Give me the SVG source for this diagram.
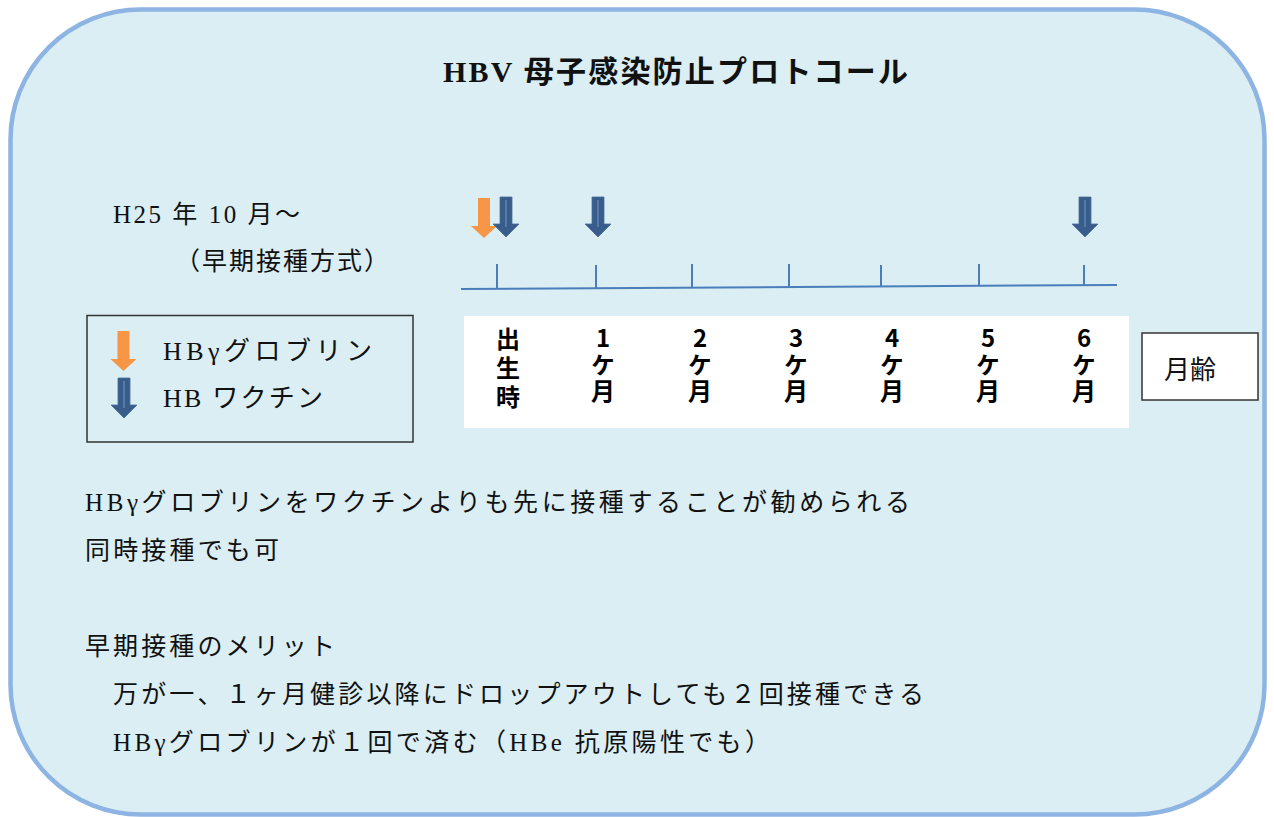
<svg xmlns="http://www.w3.org/2000/svg" xmlns:xlink="http://www.w3.org/1999/xlink" width="1274" height="817" viewBox="0 0 1274 817">
<style>
.t{font-family:"Liberation Serif","Noto Sans CJK JP",serif;fill:#111;font-size:25px}
.v{font-family:"Noto Sans CJK JP","Liberation Sans",sans-serif;font-weight:bold;fill:#000;font-size:24px;writing-mode:vertical-rl;text-orientation:upright;letter-spacing:2.5px}
.axis{stroke:#4A7EBB;stroke-width:2;fill:none}
.box{fill:none;stroke:#333;stroke-width:1.5}
</style>
<defs>
<g id="blueArrow">
<path d="M-6,0 H6 V27 H13 L0,40 L-13,27 H-6 Z" fill="#385D8A" stroke="#4A6E9C" stroke-width="0.8"/>
<line x1="0" y1="3" x2="0" y2="30" stroke="#6A8FBF" stroke-width="1.2"/>
</g>
<g id="orangeArrow">
<path d="M-6,0 H6 V28 H13 L0,40 L-13,28 H-6 Z" fill="#F79646"/>
</g>
</defs>
<rect id="frame" x="10.5" y="9.5" width="1254" height="805" rx="130" ry="130" fill="#DAEEF3" stroke="#8DB4E2" stroke-width="4.5"/>

<g id="title">
<text class="t" x="443" y="82" style="font-size:30px;font-weight:bold" textLength="465" lengthAdjust="spacing">HBV 母子感染防止プロトコール</text>
</g>

<g id="period">
<text class="t" x="113" y="223" textLength="187" lengthAdjust="spacing">H25 年 10 月～</text>
<text class="t" x="175" y="270" textLength="214" lengthAdjust="spacing">（早期接種方式）</text>
</g>

<g id="timeline">
<line class="axis" x1="461" y1="289" x2="1117" y2="285"/>
<line class="axis" x1="497" y1="264" x2="497" y2="288"/>
<line class="axis" x1="596" y1="265" x2="596" y2="288"/>
<line class="axis" x1="692" y1="264" x2="692" y2="287"/>
<line class="axis" x1="789" y1="264" x2="789" y2="287"/>
<line class="axis" x1="881" y1="265" x2="881" y2="286"/>
<line class="axis" x1="979" y1="264" x2="979" y2="286"/>
<line class="axis" x1="1084" y1="265" x2="1084" y2="286"/>
</g>

<g id="connectors">
<use xlink:href="#orangeArrow" x="484" y="198"/>
<use xlink:href="#blueArrow" x="506" y="197"/>
<use xlink:href="#blueArrow" x="598" y="197"/>
<use xlink:href="#blueArrow" x="1085" y="197"/>
</g>

<g id="legend">
<rect class="box" x="87" y="315.5" width="326" height="126.5"/>
<use xlink:href="#orangeArrow" x="123.5" y="331"/>
<use xlink:href="#blueArrow" x="124" y="378"/>
<text class="t" x="163" y="360" style="font-size:26px" textLength="209" lengthAdjust="spacing">HBγグロブリン</text>
<text class="t" x="163" y="407" style="font-size:26px" textLength="160" lengthAdjust="spacing">HB ワクチン</text>
</g>

<g id="months">
<rect x="464" y="316" width="665" height="112" fill="#fff"/>
<text class="v" x="508" y="327" style="letter-spacing:5px">出生時</text>
<text class="v" x="603" y="326">1ケ月</text>
<text class="v" x="700" y="326">2ケ月</text>
<text class="v" x="796" y="326">3ケ月</text>
<text class="v" x="892" y="326">4ケ月</text>
<text class="v" x="988" y="326">5ケ月</text>
<text class="v" x="1084" y="326">6ケ月</text>
</g>

<g id="age">
<rect x="1142" y="333" width="116" height="67" fill="#fff" stroke="#333" stroke-width="1.5"/>
<text class="t" x="1190" y="379" style="font-size:26px" text-anchor="middle">月齢</text>
</g>

<g id="notes">
<text class="t" x="85" y="511" textLength="825" lengthAdjust="spacing">HBγグロブリンをワクチンよりも先に接種することが勧められる</text>
<text class="t" x="85" y="559" textLength="194" lengthAdjust="spacing">同時接種でも可</text>
</g>

<g id="merits">
<text class="t" x="85" y="655" textLength="250" lengthAdjust="spacing">早期接種のメリット</text>
<text class="t" x="113" y="703" textLength="811" lengthAdjust="spacing">万が一、１ヶ月健診以降にドロップアウトしても２回接種できる</text>
<text class="t" x="113" y="751" textLength="657" lengthAdjust="spacing">HBγグロブリンが１回で済む（HBe 抗原陽性でも）</text>
</g>
</svg>
